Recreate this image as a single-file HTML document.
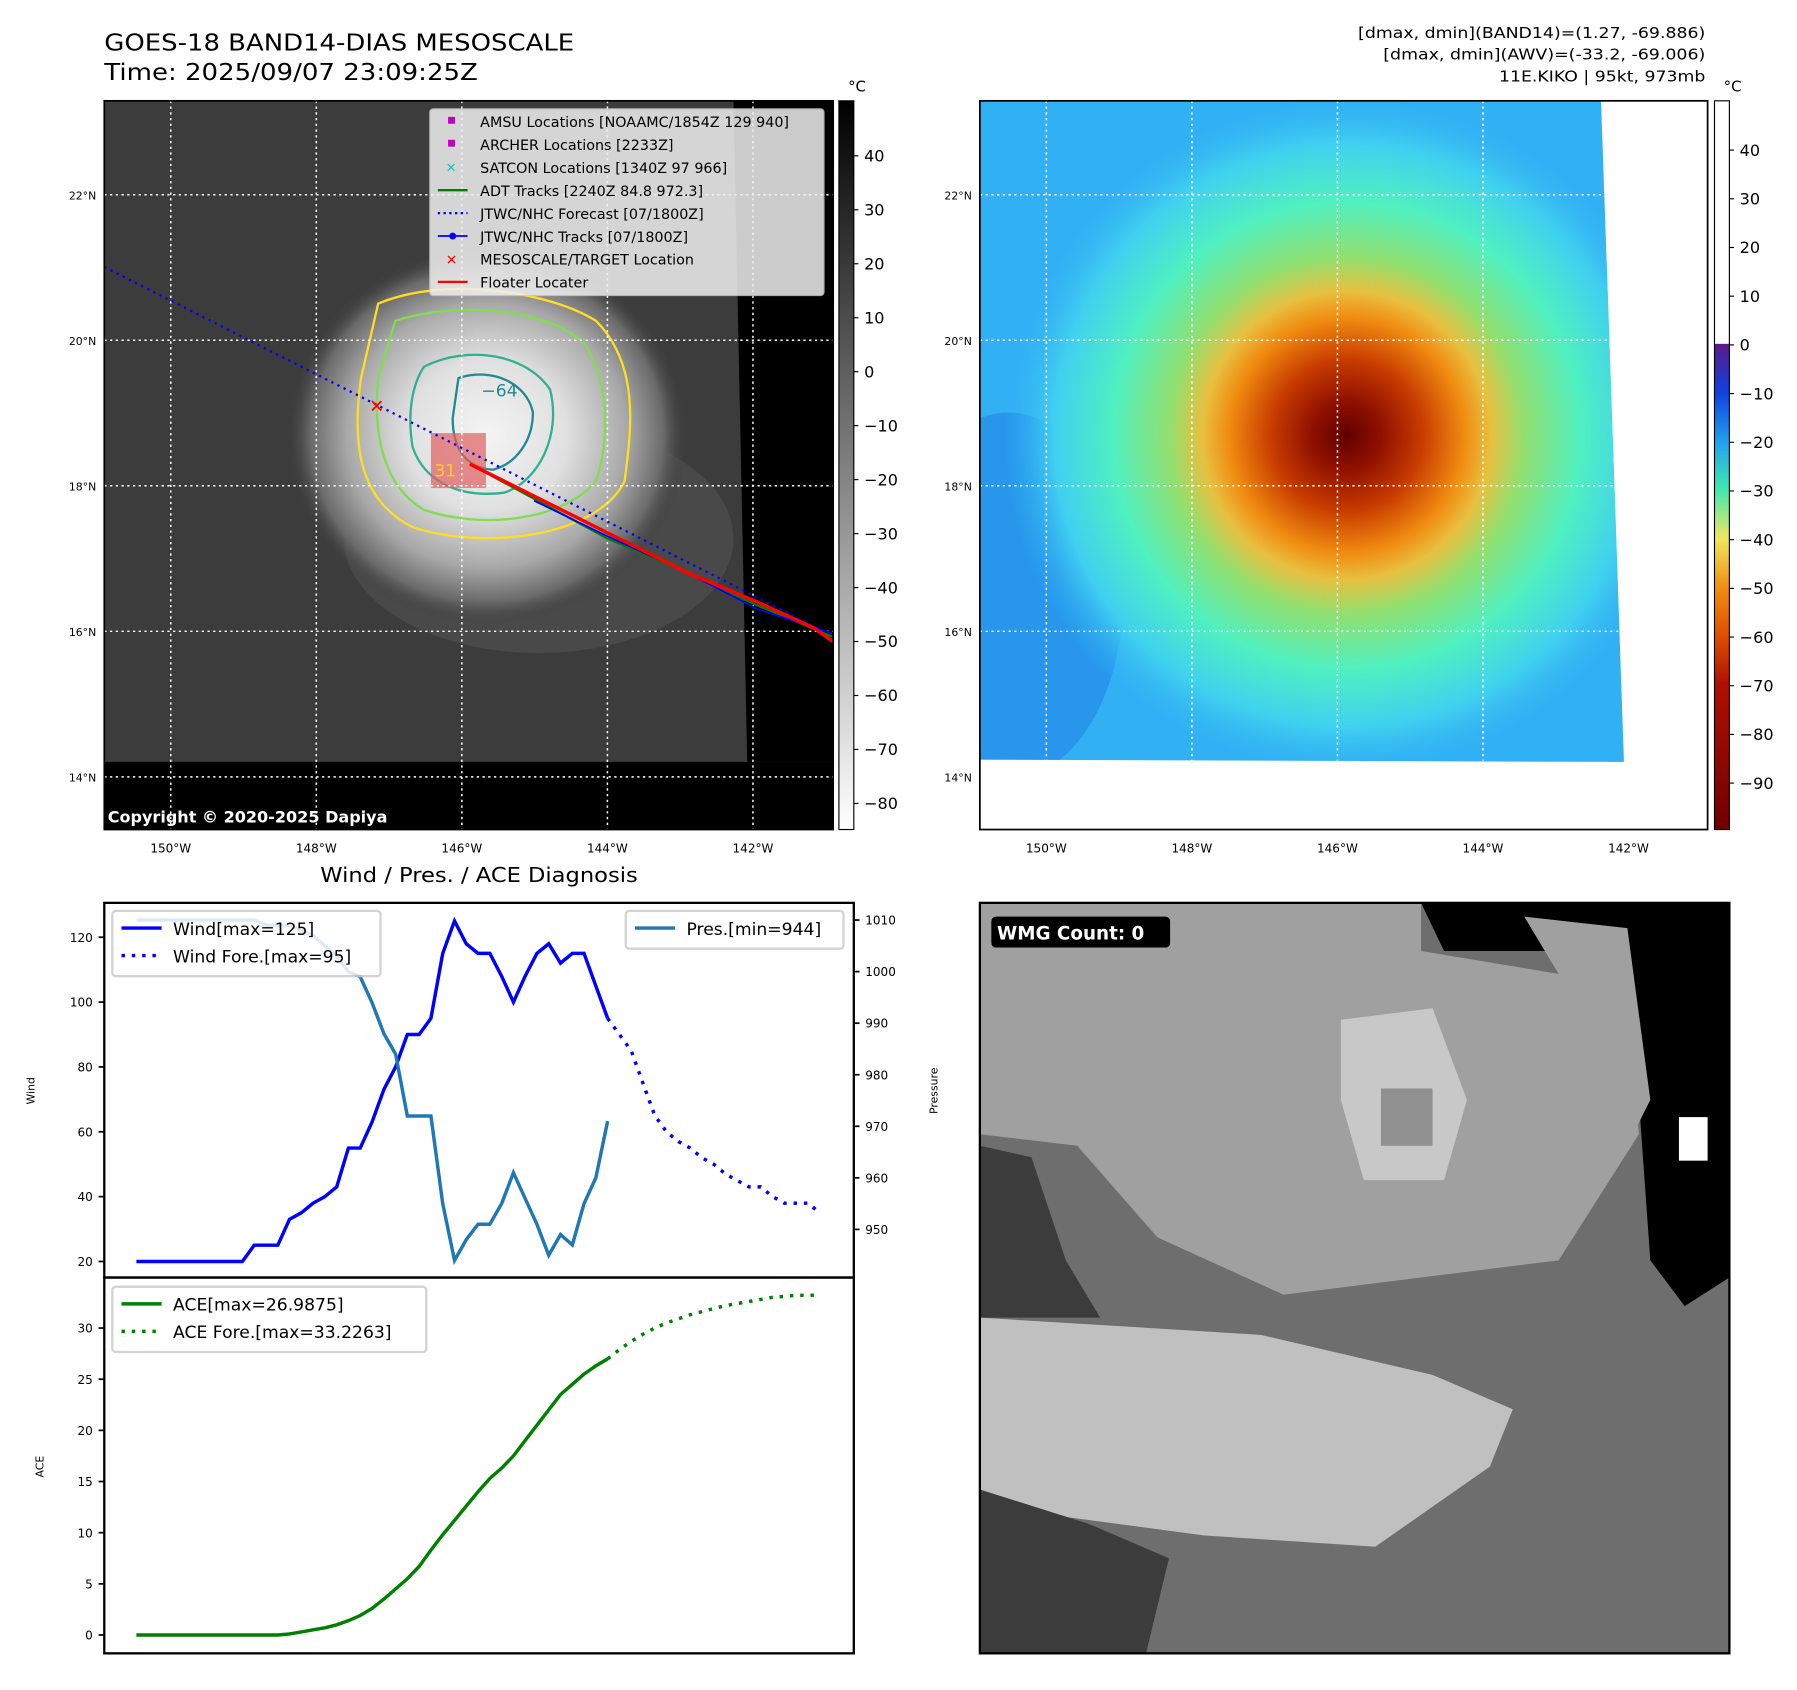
<!DOCTYPE html>
<html><head><meta charset="utf-8"><style>
html,body{margin:0;padding:0;background:#fff;}
svg{display:block;font-family:"DejaVu Sans","Liberation Sans",sans-serif;}
</style></head><body>
<svg id="root" width="1797" height="1690" viewBox="0 0 1568 1475" preserveAspectRatio="none">
<defs>
<radialGradient id="stormGray" cx="0.5" cy="0.5" r="0.5">
<stop offset="0" stop-color="#f4f4f4"/><stop offset="0.4" stop-color="#e0e0e0"/><stop offset="0.7" stop-color="#a8a8a8"/><stop offset="0.88" stop-color="#6a6a6a"/><stop offset="1" stop-color="#3c3c3c" stop-opacity="0"/></radialGradient>
<radialGradient id="stormColor" cx="0.5" cy="0.5" r="0.5">
<stop offset="0" stop-color="#600000"/><stop offset="0.1" stop-color="#901000"/><stop offset="0.22" stop-color="#c83c00"/><stop offset="0.34" stop-color="#f08a10"/><stop offset="0.42" stop-color="#e8c040"/><stop offset="0.52" stop-color="#90e070"/><stop offset="0.68" stop-color="#50f0c0"/><stop offset="0.85" stop-color="#40d0f0"/><stop offset="1" stop-color="#32b0f4" stop-opacity="0"/></radialGradient>
<linearGradient id="cbGray" x1="0" y1="0" x2="0" y2="1"><stop offset="0" stop-color="#000"/><stop offset="1" stop-color="#fff"/></linearGradient>
<linearGradient id="cbColor" x1="0" y1="0" x2="0" y2="1">
<stop offset="0" stop-color="#fff"/><stop offset="0.333" stop-color="#fff"/><stop offset="0.334" stop-color="#5a1a8a"/><stop offset="0.4" stop-color="#1040e0"/><stop offset="0.467" stop-color="#20a0f0"/><stop offset="0.533" stop-color="#40e8b0"/><stop offset="0.6" stop-color="#f0e860"/><stop offset="0.667" stop-color="#f09010"/><stop offset="0.733" stop-color="#e05000"/><stop offset="0.8" stop-color="#b01000"/><stop offset="1" stop-color="#700000"/></linearGradient>
<clipPath id="clipL"><rect x="91" y="88" width="636" height="636"/></clipPath>
<clipPath id="clipR"><rect x="855" y="88" width="635" height="636"/></clipPath>
<clipPath id="clipR2"><polygon points="855,88 1397,88 1417,665 855,663"/></clipPath>
</defs>

<text x="91" y="44" font-size="20" textLength="410" lengthAdjust="spacingAndGlyphs">GOES-18 BAND14-DIAS MESOSCALE</text>
<text x="91" y="70" font-size="20" textLength="326" lengthAdjust="spacingAndGlyphs">Time: 2025/09/07 23:09:25Z</text>
<g font-size="13" text-anchor="end">
<text x="1488" y="33" textLength="303" lengthAdjust="spacingAndGlyphs">[dmax, dmin](BAND14)=(1.27, -69.886)</text>
<text x="1488" y="52" textLength="281" lengthAdjust="spacingAndGlyphs">[dmax, dmin](AWV)=(-33.2, -69.006)</text>
<text x="1488" y="71" textLength="180" lengthAdjust="spacingAndGlyphs">11E.KIKO | 95kt, 973mb</text></g>

<g clip-path="url(#clipL)">
<rect x="91" y="88" width="636" height="636" fill="#3c3c3c"/>
<ellipse cx="470" cy="470" rx="170" ry="100" fill="#4e4e4e" opacity="0.7"/>
<ellipse cx="425" cy="380" rx="175" ry="165" fill="url(#stormGray)"/>
<rect x="91" y="665" width="636" height="59" fill="#000"/>
<polygon points="640,88 727,88 727,665 652,665" fill="#000"/>
<path d="M330,265 C390,240 480,255 520,280 C560,320 550,380 545,420 C520,470 420,480 360,460 C320,440 305,400 315,330 Z" fill="none" stroke="#ffdd22" stroke-width="2"/>
<path d="M345,280 C400,262 480,270 510,300 C535,340 530,390 520,420 C490,455 420,462 370,445 C335,425 325,380 330,330 Z" fill="none" stroke="#80dd50" stroke-width="2"/>
<path d="M370,320 C410,300 460,310 480,340 C490,380 470,420 440,430 C400,435 370,420 360,390 C355,360 360,335 370,320 Z" fill="none" stroke="#30b090" stroke-width="2"/>
<path d="M400,330 C430,320 460,335 465,360 C465,385 450,405 430,410 C405,408 395,390 395,365 Z" fill="none" stroke="#208a90" stroke-width="2"/>
<rect x="376" y="378" width="48" height="48" fill="#e06060" opacity="0.7"/>
<text x="420" y="346" font-size="15" fill="#208a90">−64</text>
<text x="379" y="416" font-size="15" fill="#ffcc22">31</text>
<g stroke="#fff" stroke-width="1.3" stroke-dasharray="2,3">
<line x1="149" y1="88" x2="149" y2="724"/><line x1="276" y1="88" x2="276" y2="724"/><line x1="403" y1="88" x2="403" y2="724"/><line x1="530" y1="88" x2="530" y2="724"/><line x1="657" y1="88" x2="657" y2="724"/>
<line x1="91" y1="170" x2="727" y2="170"/><line x1="91" y1="297" x2="727" y2="297"/><line x1="91" y1="424" x2="727" y2="424"/><line x1="91" y1="551" x2="727" y2="551"/><line x1="91" y1="678" x2="727" y2="678"/></g>
<line x1="91" y1="233" x2="727" y2="555" stroke="#0000ff" stroke-width="2" stroke-dasharray="2,4"/>
<polyline points="410,405 460,432 530,470 600,500 660,528 727,556" fill="none" stroke="#008000" stroke-width="2"/>
<polyline points="466,437 530,468 600,500 662,532 727,553" fill="none" stroke="#0000ff" stroke-width="1.5"/>
<polyline points="410,405 450,425 500,450 540,470 600,500 660,525 710,548 727,560" fill="none" stroke="#ff0000" stroke-width="3"/>
<text x="322" y="360" font-size="16" fill="#ff0000" font-weight="bold">✕</text>
<text x="94" y="718" font-size="14" fill="#fff" font-weight="bold">Copyright © 2020-2025 Dapiya</text>
</g>
<rect x="91" y="88" width="636" height="636" fill="none" stroke="#000" stroke-width="1.5"/>
<g>
<rect x="375" y="95" width="344" height="163" fill="#f0f0f0" opacity="0.85" stroke="#ccc" rx="3"/>
<g font-size="12.5">
<rect x="391" y="102" width="6" height="6" fill="#c000c0"/><text x="419" y="111">AMSU Locations [NOAAMC/1854Z 129 940]</text>
<rect x="391" y="122" width="6" height="6" fill="#c000c0"/><text x="419" y="131">ARCHER Locations [2233Z]</text>
<text x="389" y="150" fill="#10c0c0" font-size="11">✕</text><text x="419" y="151">SATCON Locations [1340Z 97 966]</text>
<line x1="382" y1="166" x2="408" y2="166" stroke="#008000" stroke-width="2"/><text x="419" y="171">ADT Tracks [2240Z 84.8 972.3]</text>
<line x1="382" y1="186" x2="408" y2="186" stroke="#0000ff" stroke-width="2" stroke-dasharray="2,3"/><text x="419" y="191">JTWC/NHC Forecast [07/1800Z]</text>
<line x1="382" y1="206" x2="408" y2="206" stroke="#0000ff" stroke-width="1.5"/><circle cx="395" cy="206" r="3" fill="#0000ff"/><text x="419" y="211">JTWC/NHC Tracks [07/1800Z]</text>
<text x="389" y="231" fill="#ff0000" font-size="12" font-weight="bold">✕</text><text x="419" y="231">MESOSCALE/TARGET Location</text>
<line x1="382" y1="246" x2="408" y2="246" stroke="#ff0000" stroke-width="2"/><text x="419" y="251">Floater Locater</text></g></g>

<g font-size="10.5" text-anchor="middle">
<text x="149" y="744">150°W</text><text x="276" y="744">148°W</text><text x="403" y="744">146°W</text><text x="530" y="744">144°W</text><text x="657" y="744">142°W</text>
<text x="913" y="744">150°W</text><text x="1040" y="744">148°W</text><text x="1167" y="744">146°W</text><text x="1294" y="744">144°W</text><text x="1421" y="744">142°W</text></g>
<g font-size="9.5" text-anchor="end">
<text x="84" y="174">22°N</text><text x="84" y="301">20°N</text><text x="84" y="428">18°N</text><text x="84" y="555">16°N</text><text x="84" y="682">14°N</text>
<text x="848" y="174">22°N</text><text x="848" y="301">20°N</text><text x="848" y="428">18°N</text><text x="848" y="555">16°N</text><text x="848" y="682">14°N</text></g>

<rect x="732" y="88" width="13" height="636" fill="url(#cbGray)" stroke="#000"/>
<text x="740" y="80" font-size="13">°C</text>
<g id="cbL" font-size="14"></g>

<g clip-path="url(#clipR)">
<rect x="855" y="88" width="635" height="636" fill="#fff"/>
<polygon points="855,88 1397,88 1417,665 855,663" fill="#32b0f4"/>
<ellipse cx="880" cy="520" rx="100" ry="160" fill="#1a78e0" opacity="0.45" clip-path="url(#clipR2)"/>
<ellipse cx="1175" cy="380" rx="300" ry="300" fill="url(#stormColor)" clip-path="url(#clipR2)"/>
<g stroke="#fff" stroke-width="1.3" stroke-dasharray="2,3">
<line x1="913" y1="88" x2="913" y2="664"/><line x1="1040" y1="88" x2="1040" y2="664"/><line x1="1167" y1="88" x2="1167" y2="664"/><line x1="1294" y1="88" x2="1294" y2="664"/>
<line x1="855" y1="170" x2="1400" y2="170"/><line x1="855" y1="297" x2="1403" y2="297"/><line x1="855" y1="424" x2="1408" y2="424"/><line x1="855" y1="551" x2="1412" y2="551"/></g>
</g>
<rect x="855" y="88" width="635" height="636" fill="none" stroke="#000" stroke-width="1.5"/>
<rect x="1496" y="88" width="13" height="636" fill="url(#cbColor)" stroke="#000"/>
<text x="1504" y="80" font-size="13">°C</text>
<g id="cbR" font-size="14"></g>

<g>
<rect x="855" y="788" width="654" height="655" fill="#6e6e6e"/>
<polygon points="855,788 1240,788 1240,830 1420,860 1430,990 1360,1100 1120,1130 1010,1080 940,1000 855,990" fill="#a0a0a0"/>
<polygon points="1240,788 1509,788 1509,1115 1470,1140 1440,1100 1430,960 1390,830 1260,830" fill="#000"/>
<polygon points="1330,800 1420,810 1440,960 1410,1020 1390,900" fill="#a0a0a0"/>
<polygon points="1170,890 1250,880 1280,960 1260,1030 1190,1030 1170,960" fill="#c8c8c8"/>
<rect x="1205" y="950" width="45" height="50" fill="#909090"/>
<polygon points="855,1150 1100,1165 1250,1200 1320,1230 1300,1280 1200,1350 1050,1340 900,1320 855,1300" fill="#c0c0c0"/>
<polygon points="855,1300 950,1330 1020,1360 1000,1443 855,1443" fill="#3c3c3c"/>
<polygon points="855,1000 900,1010 930,1100 960,1150 855,1150" fill="#3c3c3c"/>
<rect x="1465" y="975" width="25" height="38" fill="#fff"/>
<rect x="865" y="800" width="156" height="27" rx="4" fill="#000"/>
<text x="870" y="820" font-size="16" font-weight="bold" fill="#fff">WMG Count: 0</text>
<rect x="855" y="788" width="654" height="655" fill="none" stroke="#000" stroke-width="2"/></g>

<text x="418" y="770" font-size="18" text-anchor="middle" textLength="277" lengthAdjust="spacingAndGlyphs">Wind / Pres. / ACE Diagnosis</text>
<g id="chart"></g>
</svg>
<script>
const windObs=[20,20,20,20,20,20,20,20,20,20,25,25,25,33,35,38,40,43,55,55,63,73,80,90,90,95,115,125,118,115,115,108,100,108,115,118,112,115,115,105,95];
const windFore=[95,90,85,75,65,60,57,55,52,50,47,45,43,43,40,38,38,38,35];
const presObs=[1010,1010,1010,1010,1010,1010,1010,1010,1010,1010,1010,1009,1009,1009,1008,1007,1005,1003,1000,999,994,988,984,972,972,972,955,944,948,951,951,955,961,956,951,945,949,947,955,960,971];
const aceObs=[0,0,0,0,0,0,0,0,0,0,0,0,0,0.1,0.3,0.5,0.7,1.0,1.4,1.9,2.6,3.5,4.5,5.5,6.7,8.3,9.8,11.2,12.6,14.0,15.3,16.3,17.5,19.0,20.5,22,23.5,24.5,25.5,26.3,26.99];
const aceFore=[26.99,27.9,28.7,29.4,30.0,30.5,30.9,31.3,31.6,31.9,32.2,32.4,32.6,32.8,33.0,33.1,33.2,33.2,33.23];
const windTicks=[20,40,60,80,100,120];
const presTicks=[950,960,970,980,990,1000,1010];
const aceTicks=[0,5,10,15,20,25,30];
const irTicks=[40,30,20,10,0,-10,-20,-30,-40,-50,-60,-70,-80];
const awvTicks=[40,30,20,10,0,-10,-20,-30,-40,-50,-60,-70,-80,-90];
const NS='http://www.w3.org/2000/svg';
function mk(tag,attrs,parent){const e=document.createElementNS(NS,tag);for(const k in attrs)e.setAttribute(k,attrs[k]);parent.appendChild(e);return e;}
const xS=i=>119+i*10.28;
const yW=v=>1101-(v-20)*2.83;
const yP=v=>803+(1010-v)*4.5;
const yA=v=>1427-v*8.93;
const g=document.getElementById('chart');
const f1=mk('rect',{x:91,y:788,width:654,height:327,fill:'none',stroke:'#000','stroke-width':2},g);


const f2=mk('rect',{x:91,y:1115,width:654,height:328,fill:'none',stroke:'#000','stroke-width':2},g);


function line(arr,off,ys,color,dash,name){
 const pts=arr.map((v,i)=>xS(i+off).toFixed(1)+','+ys(v).toFixed(1)).join(' ');
 const p=mk('polyline',{points:pts,fill:'none',stroke:color,'stroke-width':3},g);
 if(dash)p.setAttribute('stroke-dasharray',dash);
 
 
}
line(windObs,0,yW,'#0000ff',null,'wind-line');
line(windFore,40,yW,'#0000ff','3,6','wind-forecast-line');
line(presObs,0,yP,'#1f77b4',null,'pressure-line');
line(aceObs,0,yA,'#008000',null,'ace-line');
line(aceFore,40,yA,'#008000','3,6','ace-forecast-line');
function ticks(arr,ys,x,side,fs){
 arr.forEach(v=>{const y=ys(v);
  mk('line',{x1:x,y1:y,x2:x+(side<0?-5:5),y2:y,stroke:'#000','stroke-width':1.5},g);
  const t=mk('text',{x:x+(side<0?-10:10),y:y+4,'font-size':fs,'text-anchor':side<0?'end':'start'},g);
  t.textContent=v;
  
  });
}
ticks(windTicks,yW,91,-1,10.5);
ticks(presTicks,yP,745,1,10.5);
ticks(aceTicks,yA,91,-1,10.5);
function rot(txt,x,y,name){const t=mk('text',{x:x,y:y,'font-size':9.5,'text-anchor':'middle',transform:`rotate(-90 ${x} ${y})`},g);t.textContent=txt;
 
 }
rot('Wind',30,952,'wind-axis-title');rot('Pressure',818,952,'pressure-axis-title');rot('ACE',38,1280,'ace-axis-title');
function legend(x,y,w,h,items,name){const lg=mk('g',{},g);
 
 
 mk('rect',{x:x,y:y,width:w,height:h,fill:'#fff',opacity:0.85,stroke:'#ccc','stroke-width':2,rx:3},lg);
 items.forEach((it,i)=>{const yy=y+15+i*24;
  const l=mk('line',{x1:x+8,y1:yy,x2:x+43,y2:yy,stroke:it[1],'stroke-width':3},lg);if(it[2])l.setAttribute('stroke-dasharray','3,6');
  const t=mk('text',{x:x+53,y:yy+6,'font-size':15},lg);t.textContent=it[0];});
}
legend(98,795,234,57,[['Wind[max=125]','#0000ff'],['Wind Fore.[max=95]','#0000ff',1]],'wind-legend');
legend(546,795,190,33,[['Pres.[min=944]','#1f77b4']],'pressure-legend');
legend(98,1123,274,57,[['ACE[max=26.9875]','#008000'],['ACE Fore.[max=33.2263]','#008000',1]],'ace-legend');
function cb(id,arr,top,step,x0){const c=document.getElementById(id);
 arr.forEach((v,i)=>{const y=top+i*step;
  mk('line',{x1:x0,y1:y,x2:x0+4,y2:y,stroke:'#000'},c);
  const t=mk('text',{x:x0+9,y:y+5},c);t.textContent=v<0?'\u2212'+(-v):v;});}
cb('cbL',irTicks,136,47.1,745);
cb('cbR',awvTicks,131,42.5,1509);
</script>
</body></html>
